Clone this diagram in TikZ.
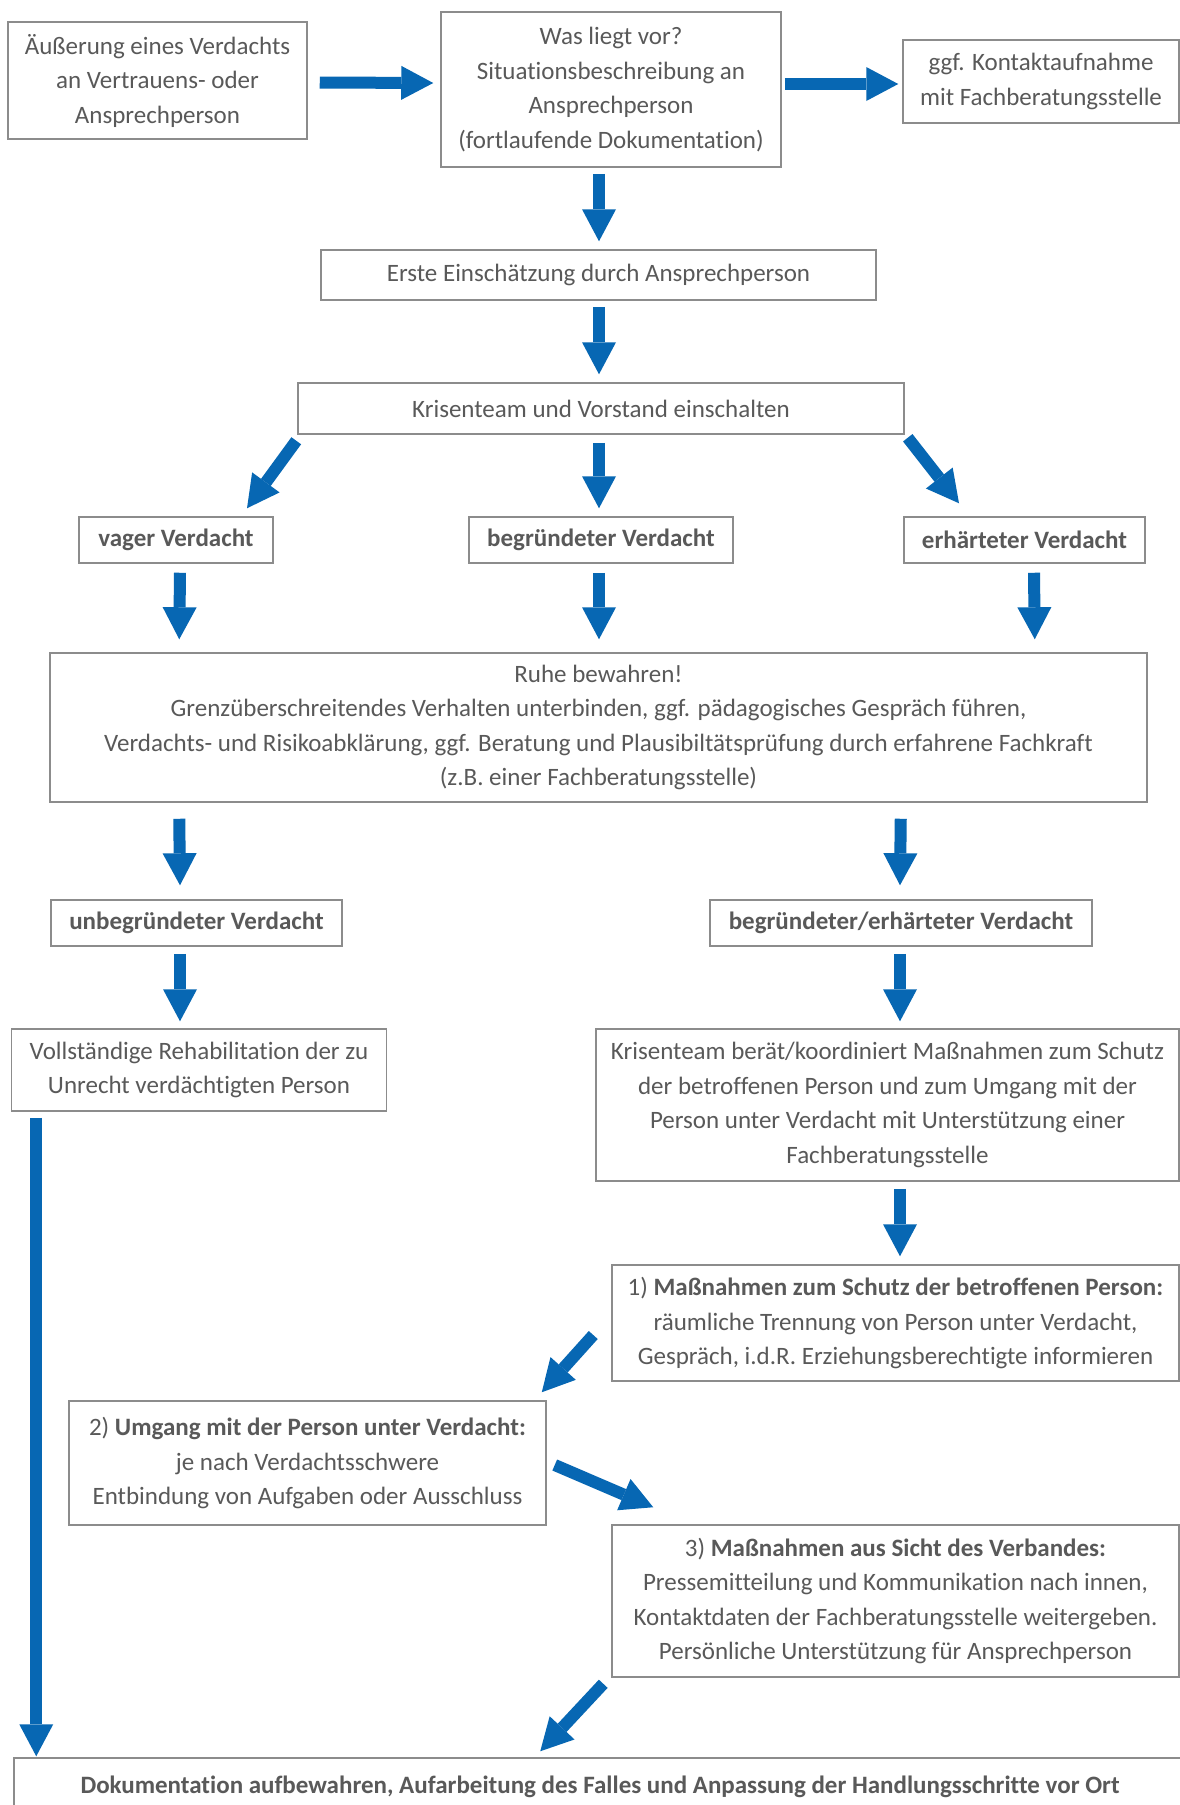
\documentclass[tikz,border=0pt]{standalone}
\usepackage{fontspec}
\setmainfont{Carlito}[Ligatures=NoCommon]
\usetikzlibrary{arrows.meta}
\definecolor{txt}{HTML}{595959}
\definecolor{bord}{HTML}{8C8C8C}
\definecolor{ablue}{HTML}{0767B3}
\begin{document}
\begin{tikzpicture}[x=1pt,y=-1pt,
 box/.style={draw=bord, line width=1.5pt, text=txt, align=center, inner sep=0pt,
   font=\fontsize{25}{34.5}\selectfont},
 boldbox/.style={box, font=\fontsize{25}{34.5}\selectfont\bfseries},
 bigarrow/.style={draw=ablue, line width=12pt, -{Triangle[width=34pt,length=32pt,line width=0pt 0]}}]
\useasboundingbox (0,0) rectangle (1180,1805);
\clip (0,0) rectangle (1180,1805);
\fill[white] (0,0) rectangle (1180,1805);

\node[box, minimum width=299pt, minimum height=117pt] (b1) at (157.5,80.5)
  {Äußerung eines Verdachts\\an Vertrauens- oder\\Ansprechperson};
\node[box, minimum width=340pt, minimum height=155pt] (b2) at (611,89.5)
  {Was liegt vor?\\Situationsbeschreibung an\\Ansprechperson\\(fortlaufende Dokumentation)};
\node[box, minimum width=276pt, minimum height=83pt] (b3) at (1041,81.5)
  {ggf. Kontaktaufnahme\\mit Fachberatungsstelle};
\node[box, minimum width=555pt, minimum height=50pt] (b4) at (598.5,275)
  {Erste Einschätzung durch Ansprechperson};
\node[box, minimum width=606pt, minimum height=51pt] (b5) at (601,408.5)
  {Krisenteam und Vorstand einschalten};
\node[boldbox, minimum width=194pt, minimum height=46pt] (vag) at (176,540)
  {vager Verdacht};
\node[boldbox, minimum width=264pt, minimum height=46pt] (beg) at (601,540)
  {begründeter Verdacht};
\node[boldbox, minimum width=241pt, minimum height=46pt] (erh) at (1024.5,540)
  {erhärteter Verdacht};
\node[box, minimum width=1097pt, minimum height=149pt] (ruhe) at (598.5,727.5)
  {Ruhe bewahren!\\Grenzüberschreitendes Verhalten unterbinden, ggf. pädagogisches Gespräch führen,\\Verdachts- und Risikoabklärung, ggf. Beratung und Plausibiltätsprüfung durch erfahrene Fachkraft\\(z.B. einer Fachberatungsstelle)};
\node[boldbox, minimum width=291pt, minimum height=46pt] (unb) at (196.5,923)
  {unbegründeter Verdacht};
\node[boldbox, minimum width=382pt, minimum height=46pt] (be) at (901,923)
  {begründeter/erhärteter Verdacht};
\node[box, minimum width=375pt, minimum height=82pt] (voll) at (199,1070)
  {Vollständige Rehabilitation der zu\\Unrecht verdächtigten Person};
\node[box, minimum width=583pt, minimum height=152pt] (kri) at (887.5,1105)
  {Krisenteam berät/koordiniert Maßnahmen zum Schutz\\der betroffenen Person und zum Umgang mit der\\Person unter Verdacht mit Unterstützung einer\\Fachberatungsstelle};
\node[box, minimum width=567pt, minimum height=116pt] (m1) at (895.5,1323)
  {1) \textbf{Maßnahmen zum Schutz der betroffenen Person:}\\räumliche Trennung von Person unter Verdacht,\\Gespräch, i.d.R. Erziehungsberechtigte informieren};
\node[box, minimum width=477pt, minimum height=124pt] (m2) at (307.5,1463)
  {2) \textbf{Umgang mit der Person unter Verdacht:}\\je nach Verdachtsschwere\\Entbindung von Aufgaben oder Ausschluss};
\node[box, minimum width=567pt, minimum height=152pt] (m3) at (895.5,1601)
  {3) \textbf{Maßnahmen aus Sicht des Verbandes:}\\Pressemitteilung und Kommunikation nach innen,\\Kontaktdaten der Fachberatungsstelle weitergeben.\\Persönliche Unterstützung für Ansprechperson};
\node[boldbox, minimum width=1172pt, minimum height=58pt] (fin) at (600,1787)
  {Dokumentation aufbewahren, Aufarbeitung des Falles und Anpassung der Handlungsschritte vor Ort};

% connectors
\draw[bigarrow] ([shift={(12,2)}]b1.east) -- ([shift={(-7,-6.5)}]b2.west);
\draw[bigarrow] ([shift={(3,-5.5)}]b2.east) -- ([shift={(-4,2.5)}]b3.west);
\draw[bigarrow] ([shift={(-12,6)}]b2.south) -- ([shift={(0.5,-8)}]b4.north);
\draw[bigarrow] ([shift={(0.5,6)}]b4.south) -- ([shift={(-2,-8)}]b5.north);
\draw[bigarrow] ([shift={(-1,6)}]b5.south west) -- ([shift={(71,-8)}]vag.north);
\draw[bigarrow] ([shift={(-2,8)}]b5.south) -- ([shift={(-2,-8)}]beg.north);
\draw[bigarrow] ([shift={(3,3)}]b5.south east) -- ([shift={(-65.5,-13)}]erh.north);
\draw[bigarrow] ([shift={(4,9)}]vag.south) -- ([shift={(130,-13)}]ruhe.north west);
\draw[bigarrow] ([shift={(-2,9)}]beg.south) -- ([shift={(0.5,-13)}]ruhe.north);
\draw[bigarrow] ([shift={(9.5,9)}]erh.south) -- ([shift={(-113,-13)}]ruhe.north east);
\draw[bigarrow] ([shift={(130,16)}]ruhe.south west) -- ([shift={(-16.5,-14)}]unb.north);
\draw[bigarrow] ([shift={(-247,16)}]ruhe.south east) -- ([shift={(-1,-14)}]be.north);
\draw[bigarrow] ([shift={(-16.5,7)}]unb.south) -- ([shift={(-19,-7)}]voll.north);
\draw[bigarrow] ([shift={(-1,7)}]be.south) -- ([shift={(12.5,-7)}]kri.north);
\draw[bigarrow] ([shift={(12.5,7)}]kri.south) -- ([shift={(4.5,-8)}]m1.north);
\draw[bigarrow] ([shift={(-18,12)}]m1.west) -- ([shift={(-5,-8)}]m2.north east);
\draw[bigarrow] ([shift={(8,2)}]m2.east) -- ([shift={(42,-17)}]m3.north west);
\draw[bigarrow] ([shift={(-8,6)}]m3.south west) -- ([shift={(527,-6)}]fin.north west);
\draw[bigarrow] ([shift={(25.5,6)}]voll.south west) -- ([shift={(23,-1)}]fin.north west);
\end{tikzpicture}
\end{document}
